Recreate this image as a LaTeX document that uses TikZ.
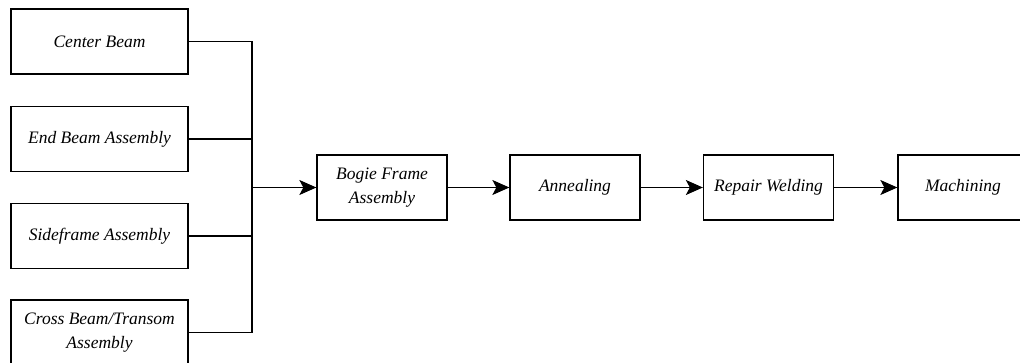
\documentclass[tikz,border=0pt]{standalone}
\usepackage{fontspec}
\setmainfont{Liberation Serif}
\usepackage{tikz}
\usetikzlibrary{arrows.meta}
\usetikzlibrary{calc}

\tikzset{
    part/.style={draw, line width=1.3pt, minimum width=177pt, minimum height=65pt, align=center, inner sep=2pt, font=\fontsize{17.5}{24}\selectfont\itshape},
    stage/.style={part, minimum width=130pt},
    arr/.style={line width=1.3pt, -{Stealth[length=17pt,width=15pt,inset=4pt]}}
}

\begin{document}
\begin{tikzpicture}[x=1pt,y=-1pt]
                \useasboundingbox (0,0) rectangle (1020,363);
                % Parts on the left
                \node[part] (cb) at (99.5,41.5) {Center Beam};
                \node[part] (eb) at (99.5,139) {End Beam Assembly};
                \node[part] (sf) at (99.5,236) {Sideframe Assembly};
                \node[part] (xb) at (99.5,332.5) {Cross Beam/Transom\\Assembly};
                % Process chain
                \node[stage] (bogie) at (382,187.5) {Bogie Frame\\Assembly};
                \node[stage] (anneal) at (575,187.5) {Annealing};
                \node[stage] (repair) at (768.5,187.5) {Repair Welding};
                \node[stage] (mach) at (963,187.5) {Machining};
                % Joining bus
                \coordinate (bus) at (252,187.5);
                \draw[line width=1.3pt] (cb.east) -| (bus |- xb.east) -- (xb.east);
                \draw[line width=1.3pt] (eb.east) -- (eb.east -| bus);
                \draw[line width=1.3pt] (sf.east) -- (sf.east -| bus);
                \draw[arr] (bus) -- (bogie.west);
                \draw[arr] (bogie) -- (anneal);
                \draw[arr] (anneal) -- (repair);
                \draw[arr] (repair) -- (mach);
            \end{tikzpicture}
\end{document}
